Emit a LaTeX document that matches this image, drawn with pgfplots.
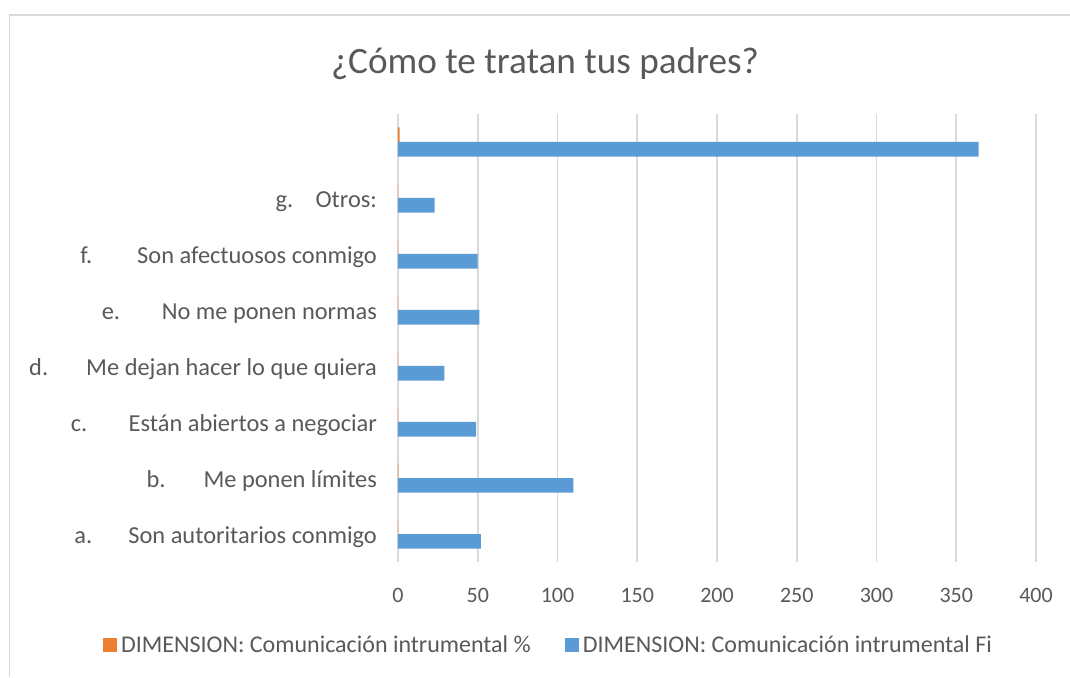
\documentclass[border=0pt]{standalone}
\usepackage{pgfplots}
\pgfplotsset{compat=1.18}
\usepackage{fontspec}
\setmainfont{Carlito}
\definecolor{txt}{HTML}{595959}
\definecolor{gridc}{HTML}{D9D9D9}
\definecolor{blu}{HTML}{5B9BD5}
\definecolor{ora}{HTML}{ED7D31}

% orange = %, blue = Fi; row 7 is the total
\pgfplotstableread{
y pct fi
0 0.14 52
1 0.30 110
2 0.13 49
3 0.08 29
4 0.14 51
5 0.14 50
6 0.06 23
7 1.00 364
}\datos

\begin{document}
\begin{tikzpicture}
\useasboundingbox (0,0) rectangle (535pt,338.5pt);
\draw[gridc, line width=0.6pt] (4.7pt,0) -- (4.7pt,331pt) -- (535pt,331pt);
\node[anchor=base, text=txt, font=\fontsize{18.6}{22}\selectfont] at (272.5pt,302pt) {¿Cómo te tratan tus padres?};
\begin{axis}[
    at={(199pt,57.5pt)}, anchor=south west,
    scale only axis, width=319pt, height=224pt,
    xbar, bar width=7.35pt,
    xmin=0, xmax=400, ymin=-0.5, ymax=7.5,
    xtick={0,50,...,400},
    ytick={0,...,7},
    yticklabels={
      {\makebox[27pt][l]{a.}Son autoritarios conmigo},
      {\makebox[28.5pt][l]{b.}Me ponen límites},
      {\makebox[29pt][l]{c.}Están abiertos a negociar},
      {\makebox[28.5pt][l]{d.}Me dejan hacer lo que quiera\hspace{2.5pt}},
      {\makebox[30pt][l]{e.}No me ponen normas},
      {\makebox[28.5pt][l]{f.}Son afectuosos conmigo},
      {\makebox[20pt][l]{g.}Otros:},
      {}},
    major tick length=0pt,
    axis line style={draw=none},
    xmajorgrids, grid style={gridc, line width=0.8pt},
    tick label style={text=txt},
    xticklabel style={font=\fontsize{11}{13}\selectfont, yshift=-9.5pt},
    yticklabel style={font=\fontsize{12.2}{14}\selectfont, anchor=east, xshift=-7pt, yshift=-1.6pt},
    /pgf/number format/assume math mode=true,
    legend columns=2,
    legend style={at={(0.2375,-0.186)}, anchor=center, draw=none,
      font=\fontsize{12}{14}\selectfont, text=txt,
      /tikz/every even column/.append style={column sep=15pt}},
    legend image code/.code={\fill[#1] (0pt,-3.5pt) rectangle (7pt,3.5pt);},
]
\addplot[fill=ora, draw=none, bar shift=3.67pt] table[x=pct, y=y] {\datos};
\addlegendentry{DIMENSION: Comunicación intrumental \%}
\addplot[fill=blu, draw=none, bar shift=-3.67pt] table[x=fi, y=y] {\datos};
\addlegendentry{DIMENSION: Comunicación intrumental Fi}
\end{axis}
\end{tikzpicture}
\end{document}
